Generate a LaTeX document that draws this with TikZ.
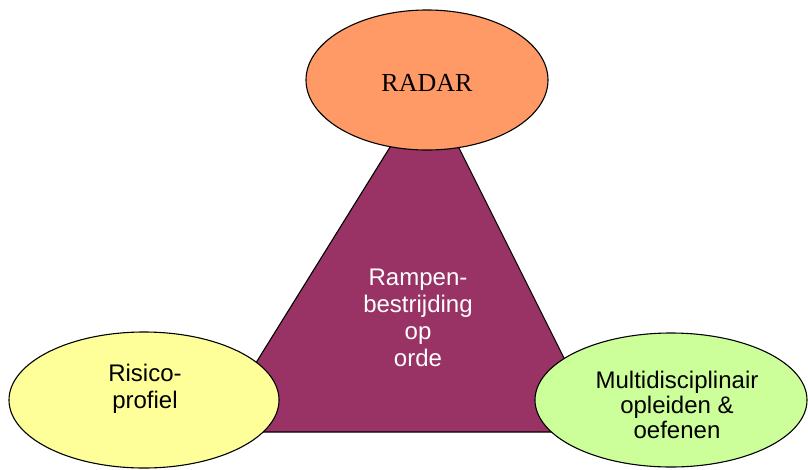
\documentclass[tikz,border=0pt]{standalone}
\usepackage{fontspec}
\setmainfont{Liberation Sans}
\newfontfamily\serifface{Liberation Serif}
\usetikzlibrary{shapes.geometric}
\definecolor{radarfill}{HTML}{FF9966}
\definecolor{risicofill}{HTML}{FFFF99}
\definecolor{oefenfill}{HTML}{CCFF99}
\definecolor{kernfill}{HTML}{993366}
\tikzset{
  blob/.style={ellipse, draw=black, line width=1.1pt, inner sep=0pt},
  lbl/.style={align=center, inner sep=0pt, font=\fontsize{24}{27}\selectfont},
}
\begin{document}
\begin{tikzpicture}[x=1pt,y=-1pt]
\useasboundingbox (0,0) rectangle (808,469);
% central triangle
\coordinate (top) at (428,86);
\coordinate (bl) at (213,432);
\coordinate (br) at (601,432);
\fill[kernfill, draw=black, line width=1.1pt, line join=miter] (top) -- (bl) -- (br) -- cycle;
\node[lbl, text=white] (kern) at (418,318) {Rampen-\\bestrijding\\op\\orde};
% the three pillars
\node[blob, fill=radarfill, minimum width=242pt, minimum height=140pt] (radar) at (427,80) {};
\node[lbl, font=\serifface\fontsize{26}{28}\selectfont] (radartxt) at (427,83) {RADAR};
\node[blob, fill=risicofill, minimum width=270pt, minimum height=136pt] (risico) at (144,400) {};
\node[lbl] (risicotxt) at (145,389) {Risico-\\profiel};
\node[blob, fill=oefenfill, minimum width=272pt, minimum height=134pt] (oefen) at (671,400) {};
\node[lbl, font=\fontsize{24}{25}\selectfont] (oefentxt) at (677,405) {Multidisciplinair\\opleiden \&\\oefenen};
\end{tikzpicture}
\end{document}
